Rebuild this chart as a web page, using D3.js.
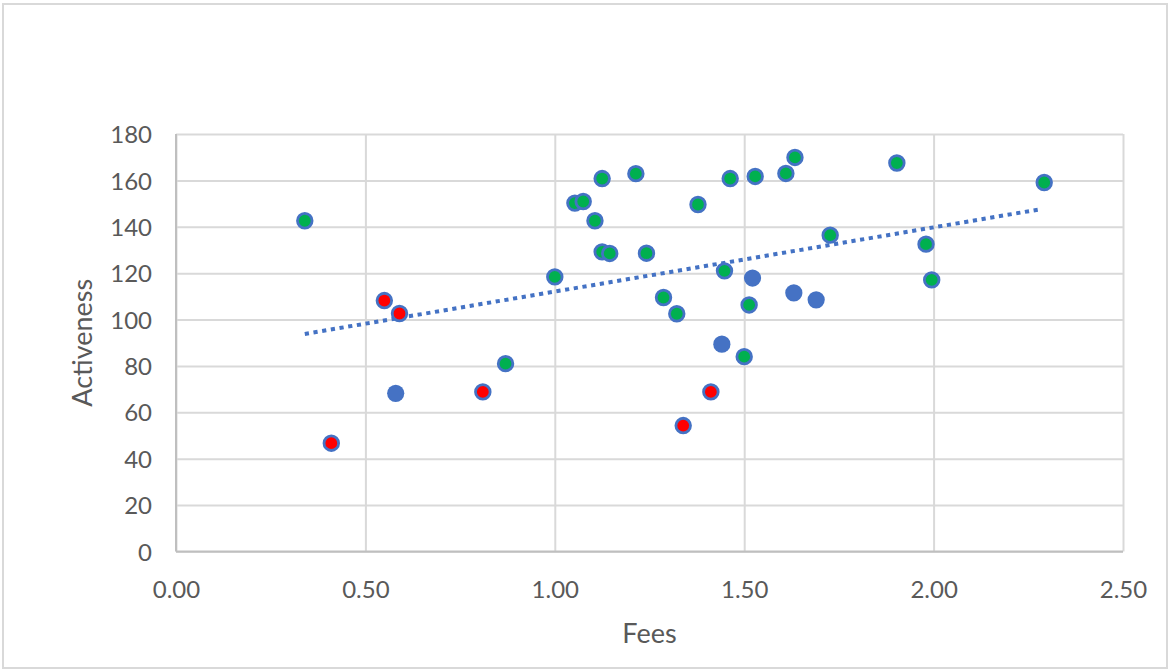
<!DOCTYPE html>
<html>
<head>
<meta charset="utf-8">
<script src="https://cdn.jsdelivr.net/npm/d3@7"></script>
<style>
  html, body { margin: 0; padding: 0; background: #fff; }
  svg { display: block; }
  .tick text { font-family: Lato, "Open Sans", sans-serif; fill: #595959; }
</style>
</head>
<body>
<svg id="chart" width="1170" height="670"></svg>
<script>
// Fees vs. activeness, one entry per member
const fees = [
  0.34, 0.41, 0.55, 0.59, 0.58, 0.81, 0.87, 1.00,
  1.125, 1.214, 1.053, 1.075, 1.106, 1.125, 1.145, 1.242,
  1.378, 1.463, 1.529, 1.610, 1.634, 1.727,
  1.287, 1.322, 1.448, 1.522, 1.513, 1.631, 1.690, 1.441, 1.500,
  1.412, 1.339,
  1.903, 2.292, 1.980, 1.995
];
const activeness = [
  142.6, 46.7, 108.2, 102.6, 68.2, 68.8, 81.0, 118.4,
  160.8, 162.9, 150.2, 150.9, 142.6, 129.2, 128.5, 128.6,
  149.6, 160.8, 161.7, 163.0, 169.9, 136.4,
  109.5, 102.5, 121.0, 117.9, 106.3, 111.5, 108.5, 89.4, 84.0,
  68.8, 54.3,
  167.5, 159.1, 132.5, 117.1
];
// Status of each member: "good", "poor" or "none"
const status = [
  "good", "poor", "poor", "poor", "none", "poor", "good", "good",
  "good", "good", "good", "good", "good", "good", "good", "good",
  "good", "good", "good", "good", "good", "good",
  "good", "good", "good", "none", "good", "none", "none", "none", "good",
  "poor", "poor",
  "good", "good", "good", "good"
];
// Linear trendline: start and end as [fees, activeness]
const trendStart = [0.34, 93.8];
const trendEnd = [2.28, 147.5];

const xTicks = [0, 0.5, 1.0, 1.5, 2.0, 2.5];
const yTicks = [0, 20, 40, 60, 80, 100, 120, 140, 160, 180];

const statusColor = { good: "#00B050", poor: "#FF0000", none: "#4472C4" };
const markerBlue = "#4472C4";

const svg = d3.select("#chart");
const W = 1170, H = 670;
const margin = { left: 176, right: 47, top: 134, bottom: 118.5 };
const iw = W - margin.left - margin.right;
const ih = H - margin.top - margin.bottom;

// outer chart frame
svg.append("rect")
  .attr("x", 3).attr("y", 4).attr("width", 1164).attr("height", 664)
  .attr("fill", "#fff").attr("stroke", "#D9D9D9").attr("stroke-width", 2);

const defs = svg.append("defs");
defs.append("filter").attr("id", "soft")
  .attr("x", "-20%").attr("y", "-20%").attr("width", "140%").attr("height", "140%")
  .append("feGaussianBlur").attr("stdDeviation", 0.55);

const g = svg.append("g").attr("transform", `translate(${margin.left},${margin.top})`);

const x = d3.scaleLinear().domain([0, 2.5]).range([0, iw]);
const y = d3.scaleLinear().domain([0, 180]).range([ih, 0]);

// horizontal gridlines + y tick labels
const yAxis = g.append("g")
  .call(d3.axisLeft(y).tickValues(yTicks).tickFormat(d3.format("d")).tickSize(-iw).tickPadding(24));
yAxis.select(".domain").remove();
yAxis.selectAll(".tick line").attr("stroke", "#D9D9D9").attr("stroke-width", 2);
yAxis.selectAll(".tick text").attr("font-size", 24).attr("dy", "0.36em");

// vertical gridlines + x tick labels
const xAxis = g.append("g").attr("transform", `translate(0,${ih})`)
  .call(d3.axisBottom(x).tickValues(xTicks).tickFormat(d3.format(".2f")).tickSize(-ih).tickPadding(29));
xAxis.select(".domain").remove();
xAxis.selectAll(".tick line").attr("stroke", "#D9D9D9").attr("stroke-width", 2);
xAxis.selectAll(".tick text").attr("font-size", 24);

// axis lines
g.append("line").attr("x1", 0).attr("x2", 0).attr("y1", 0).attr("y2", ih)
  .attr("stroke", "#BFBFBF").attr("stroke-width", 2);
g.append("line").attr("x1", 0).attr("x2", iw).attr("y1", ih).attr("y2", ih)
  .attr("stroke", "#BFBFBF").attr("stroke-width", 2);

// axis titles
svg.append("text")
  .attr("x", margin.left + iw / 2).attr("y", 643)
  .attr("text-anchor", "middle")
  .attr("font-family", "Lato, 'Open Sans', sans-serif")
  .attr("font-size", 27).attr("fill", "#595959")
  .text("Fees");
svg.append("text")
  .attr("transform", `translate(92,${margin.top + ih / 2}) rotate(-90)`)
  .attr("text-anchor", "middle")
  .attr("font-family", "Lato, 'Open Sans', sans-serif")
  .attr("font-size", 27).attr("fill", "#595959")
  .text("Activeness");

const pts = fees.map((f, i) => ({ fee: f, act: activeness[i], status: status[i] }));

// dotted trendline
g.append("line")
  .attr("x1", x(trendStart[0])).attr("y1", y(trendStart[1]))
  .attr("x2", x(trendEnd[0])).attr("y2", y(trendEnd[1]))
  .attr("stroke", markerBlue).attr("stroke-width", 4)
  .attr("stroke-dasharray", "4.2 4.6");

// markers
const markers = g.append("g").attr("filter", "url(#soft)");
markers.selectAll("circle").data(pts).join("circle")
  .attr("cx", d => x(d.fee)).attr("cy", d => y(d.act))
  .attr("r", d => d.status === "none" ? 8.6 : 7.3)
  .attr("fill", d => statusColor[d.status])
  .attr("stroke", markerBlue)
  .attr("stroke-width", d => d.status === "none" ? 0 : 2.8);
</script>
</body>
</html>
